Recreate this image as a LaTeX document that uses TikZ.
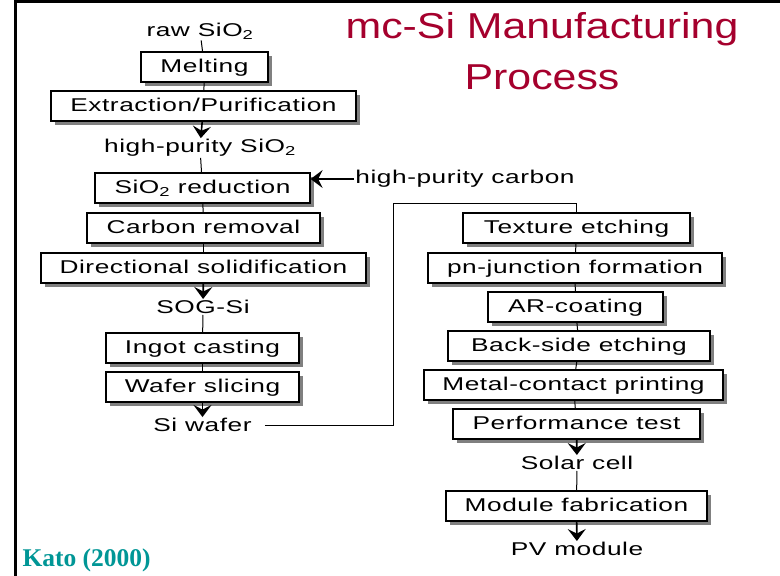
\documentclass[tikz,border=0pt]{standalone}
\usepackage{fontspec}
\setmainfont{Liberation Serif}
\newfontfamily\flowfont[FakeStretch=1.42,LetterSpace=3]{Liberation Sans}
\newfontfamily\headfont[FakeStretch=1.19]{Liberation Sans}
\usepackage{xcolor}
\usetikzlibrary{positioning,arrows.meta,shadows}
\definecolor{titlered}{RGB}{165,0,45}
\definecolor{katoteal}{RGB}{0,150,150}

\begin{document}
\begin{tikzpicture}[x=1pt, y=-1pt,
    box/.style={draw, line width=1.3pt, fill=white, inner sep=0pt, minimum height=30pt,
      font=\flowfont\fontsize{18.5}{21}\selectfont, text height=10pt, text depth=0pt,
      drop shadow={shadow xshift=4pt, shadow yshift=-4pt, fill=black!50, opacity=1}},
    lbl/.style={inner sep=1pt, font=\flowfont\fontsize{18.5}{21}\selectfont},
    arr/.style={-{Stealth[length=12pt, width=18pt, inset=4.5pt]}, line width=1.6pt},
    link/.style={line width=1pt}]
      %\draw [dotted] (0,0) grid[step=50] (780,576);
      \useasboundingbox (0,0) rectangle (780,576);
      \fill [white] (0,0) rectangle (780,576);
      \draw [line width=3pt] (14,1.5) -- (780,1.5);
      \draw [line width=3pt] (15.5,0) -- (15.5,576);
      \node [font=\headfont\fontsize{36}{51}\selectfont, text=titlered, align=center]
                             (title) at (542, 51) {mc-Si Manufacturing\\Process};
      \node [anchor=west, font=\bfseries\fontsize{25.5}{28}\selectfont, text=katoteal]
                              (kato) at ( 19, 560) {Kato (2000)};
      % silicon route
      \node [lbl]              (raw) at (200,  31) {raw SiO\textsubscript{2}};
      \node [box, minimum width=127pt] (melt) at (204.5, 67) {Melting};
      \node [box, minimum width=305pt] (extr) at (203.5,106) {Extraction/Purification};
      \node [lbl]               (hp) at (200, 148) {high-purity SiO\textsubscript{2}};
      \node [box, minimum width=215pt]  (red) at (202.5,188) {SiO\textsubscript{2} reduction};
      \node [lbl]           (carbon) at (465, 179) {high-purity carbon};
      \node [box, minimum width=233pt] (crem) at (203.5,228) {Carbon removal};
      \node [box, minimum width=325pt]  (dir) at (203.5,268) {Directional solidification};
      \node [lbl]              (sog) at (203, 307) {SOG-Si};
      \node [box, minimum width=193pt] (ingot) at (202.5,348) {Ingot casting};
      \node [box, minimum width=193pt] (slice) at (202.5,387) {Wafer slicing};
      \node [lbl]              (siw) at (202.5,425) {Si wafer};
      % cell route
      \node [box, minimum width=227pt]  (tex) at (576.5,228) {Texture etching};
      \node [box, minimum width=294pt]   (pn) at (575, 268) {pn-junction formation};
      \node [box, minimum width=175pt]   (ar) at (575.5,307) {AR-coating};
      \node [box, minimum width=262pt] (back) at (579, 346) {Back-side etching};
      \node [box, minimum width=299pt] (metal) at (573.5,385) {Metal-contact printing};
      \node [box, minimum width=247pt] (perf) at (576.5,424) {Performance test};
      \node [lbl]            (solar) at (577, 463) {Solar cell};
      \node [box, minimum width=261pt]  (mod) at (576.5,506) {Module fabrication};
      \node [lbl]               (pv) at (577, 549) {PV module};
      \coordinate             (turn) at (393, 203);
      \draw [link] (raw) -- (melt);
      \draw [link] (melt) -- (extr);
      \draw [arr] (extr) -- (hp);
      \draw [link] (hp) -- (red);
      \draw [arr] (carbon.west) -- (carbon.west -| red.east);
      \draw [link] (red) -- (crem);
      \draw [link] (crem) -- (dir);
      \draw [arr] (dir) -- (sog);
      \draw [link] (sog) -- (ingot);
      \draw [link] (ingot) -- (slice);
      \draw [arr] (slice) -- (siw);
      \draw [link, shorten <=12pt] (siw.east) -- (siw.east -| turn) -- (turn) -- (turn -| tex.north) -- (tex.north);
      \draw [link] (tex) -- (pn);
      \draw [link] (pn) -- (ar);
      \draw [link] (ar) -- (back);
      \draw [link] (back) -- (metal);
      \draw [link] (metal) -- (perf);
      \draw [arr] (perf) -- (solar);
      \draw [link] (solar) -- (mod);
      \draw [arr] (mod) -- (pv);
\end{tikzpicture}
\end{document}
